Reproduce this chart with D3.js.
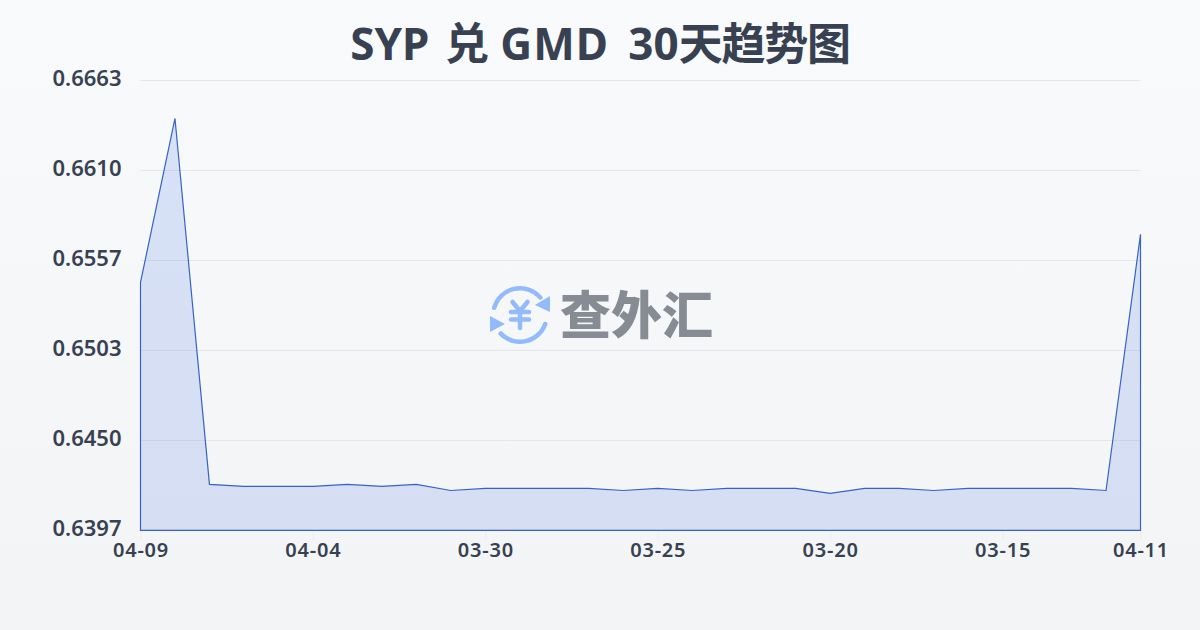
<!DOCTYPE html>
<html>
<head>
<meta charset="utf-8">
<script src="https://cdn.jsdelivr.net/npm/d3@7"></script>
<style>
  html, body { margin: 0; padding: 0; background: #f5f6f8; }
  svg { display: block; }
  text { font-family: "Noto Sans", "Noto Sans CJK SC", sans-serif; }
</style>
</head>
<body>
<div id="chart"></div>
<script>
//chart values
const titleParts = ["SYP", " 兑", " GMD", " 30", "天趋势图"];
const logoText = "查外汇";

//one rate per day, in the order they are plotted
const rates = [
  0.65436, 0.66405, 0.64242, 0.6423, 0.6423, 0.6423,
  0.64242, 0.6423, 0.64242, 0.64206, 0.64218, 0.64218,
  0.64218, 0.64218, 0.64206, 0.64218, 0.64206, 0.64218,
  0.64218, 0.64218, 0.64189, 0.64218, 0.64218, 0.64206,
  0.64218, 0.64218, 0.64218, 0.64218, 0.64206, 0.6572
];

//x labels and the day index they sit on
const xTickIndex = [0, 5, 10, 15, 20, 25, 29];
const xTickLabels = ["04-09", "04-04", "03-30", "03-25", "03-20", "03-15", "04-11"];
const yTicks = [0.6397, 0.64502, 0.65034, 0.65566, 0.66098, 0.6663];

const W = 1200, H = 630;
const margin = { top: 80, right: 59.5, bottom: 100, left: 140.5 };

const svg = d3.select("#chart").append("svg")
  .attr("width", W)
  .attr("height", H)
  .attr("viewBox", [0, 0, W, H]);

const defs = svg.append("defs");
const bg = defs.append("linearGradient")
  .attr("id", "bg")
  .attr("x1", 0).attr("y1", 0).attr("x2", 0).attr("y2", 1);
bg.append("stop").attr("offset", "0%").attr("stop-color", "#f8fafc");
bg.append("stop").attr("offset", "100%").attr("stop-color", "#f3f4f6");

svg.append("rect")
  .attr("width", W)
  .attr("height", H)
  .attr("fill", "url(#bg)");

const x = d3.scaleLinear()
  .domain([0, rates.length - 1])
  .range([margin.left, W - margin.right]);

const y = d3.scaleLinear()
  .domain([yTicks[0], yTicks[yTicks.length - 1]])
  .range([H - margin.bottom, margin.top]);

//title, the gaps between its parts are wider than a plain space
const titleGaps = [0, 4, -1, 8, 0];
svg.append("text")
  .attr("x", 600)
  .attr("y", 60)
  .attr("text-anchor", "middle")
  .attr("font-size", 44)
  .attr("font-weight", 700)
  .attr("fill", "#374151")
  .selectAll("tspan")
  .data(titleParts)
  .join("tspan")
  .attr("dx", (d, i) => titleGaps[i])
  .attr("letter-spacing", (d, i) => i == 4 ? -1.25 : i == 2 ? 1 : 0)
  .text(d => d);

//y axis, only labels and grid lines
const yAxis = svg.append("g")
  .attr("transform", `translate(${margin.left},0)`)
  .call(d3.axisLeft(y)
    .tickValues(yTicks)
    .tickFormat(d3.format(".4f"))
    .tickSize(-(W - margin.left - margin.right))
    .tickPadding(19));
yAxis.select(".domain").remove();
yAxis.selectAll(".tick line").attr("stroke", "#e5e7eb").attr("stroke-width", 1);
yAxis.selectAll(".tick text")
  .attr("font-family", '"Noto Sans", sans-serif')
  .attr("font-size", 22)
  .attr("font-weight", 600)
  .attr("dy", "0.23em")
  .attr("fill", "#374151");

//x axis
const xAxis = svg.append("g")
  .attr("transform", `translate(0,${H - margin.bottom})`)
  .call(d3.axisBottom(x)
    .tickValues(xTickIndex)
    .tickFormat((d, i) => xTickLabels[i])
    .tickSize(10)
    .tickPadding(3));
xAxis.select(".domain").remove();
xAxis.selectAll(".tick line").attr("stroke", "#eceee8").attr("stroke-width", 1);
xAxis.selectAll(".tick text")
  .attr("font-family", '"Noto Sans", sans-serif')
  .attr("font-size", 20)
  .attr("font-weight", 600)
  .attr("letter-spacing", 0.8)
  .attr("fill", "#374151");

//area with its outline closed along the bottom
const area = d3.area()
  .x((d, i) => x(i))
  .y0(y(yTicks[0]))
  .y1(d => y(d));

const plot = svg.append("g").attr("transform", "translate(0,0.4)");

plot.append("path")
  .datum(rates)
  .attr("d", area)
  .attr("fill", "#2b61dd")
  .attr("fill-opacity", 0.15);

plot.append("path")
  .datum(rates)
  .attr("d", area)
  .attr("fill", "none")
  .attr("stroke", "#3563c9")
  .attr("stroke-width", 1.2);

//watermark
const logo = svg.append("g").attr("transform", "translate(520,315)");
const logoBlue = "#93bbfb";
const ring = d3.arc().innerRadius(24.5).outerRadius(29).cornerRadius(2);

logo.append("path")
  .attr("d", ring({ startAngle: -1.38, endAngle: 0.94 }))
  .attr("fill", logoBlue);
logo.append("path")
  .attr("d", ring({ startAngle: 1.83, endAngle: 4.03 }))
  .attr("fill", logoBlue);
logo.append("path")
  .attr("d", d3.line()([[30, -19], [30, -3], [15, -10]]) + "Z")
  .attr("fill", logoBlue);
logo.append("path")
  .attr("d", d3.line()([[-30, 1], [-30, 17], [-15, 9]]) + "Z")
  .attr("fill", logoBlue);

const yen = logo.append("g")
  .attr("stroke", logoBlue)
  .attr("stroke-width", 4.5)
  .attr("stroke-linecap", "round")
  .attr("stroke-linejoin", "round")
  .attr("fill", "none");
yen.append("path").attr("d", d3.line()([[-7.5, -13], [0, -4], [7.5, -13]]));
yen.append("path").attr("d", d3.line()([[0, -4], [0, 13]]));
yen.append("path").attr("d", d3.line()([[-9, -3], [9, -3]]));
yen.append("path").attr("d", d3.line()([[-9, 4.5], [9, 4.5]]));

svg.append("text")
  .attr("x", 560)
  .attr("y", 334)
  .attr("font-size", 51)
  .attr("font-weight", 900)
  .attr("fill", "#868b94")
  .text(logoText);
</script>
</body>
</html>
